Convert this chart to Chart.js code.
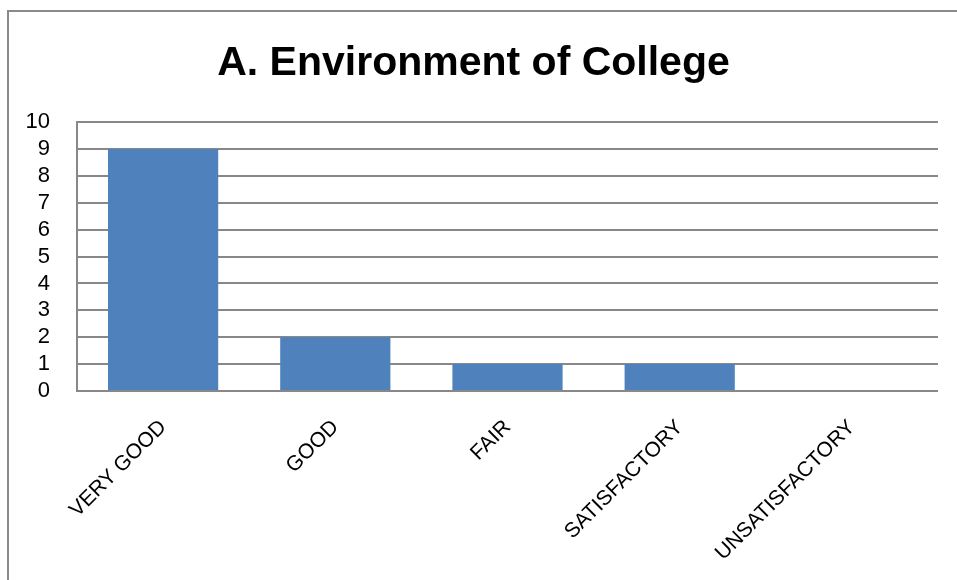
<!DOCTYPE html>
<html>
<head>
<meta charset="utf-8">
<script src="https://cdn.jsdelivr.net/npm/chart.js@4"></script>
<style>
  body { margin: 0; background: #fff; }
  #box {
    position: absolute; left: 7px; top: 10px;
    width: 948px; height: 568px;
    border-left: 2px solid #8a8a8a; border-top: 2px solid #8a8a8a;
  }
</style>
</head>
<body>
<div id="box"><canvas id="chart" width="948" height="568"></canvas></div>
<script>
const categories = ['VERY GOOD', 'GOOD', 'FAIR', 'SATISFACTORY', 'UNSATISFACTORY'];
const counts = [9, 2, 1, 1, 0];
const yTicks = [0, 1, 2, 3, 4, 5, 6, 7, 8, 9, 10];

const font = 'Liberation Sans, Arial, sans-serif';

new Chart(document.getElementById('chart'), {
  type: 'bar',
  data: {
    labels: categories,
    datasets: [{
      data: counts,
      backgroundColor: '#4f81bd',
      categoryPercentage: 1,
      barPercentage: 0.64
    }]
  },
  options: {
    responsive: false,
    animation: false,
    layout: { padding: { right: 19 } },
    plugins: {
      legend: { display: false },
      tooltip: { enabled: false },
      title: {
        display: true,
        text: 'A. Environment of College',
        color: '#000',
        font: { family: font, size: 41, weight: 'bold' },
        padding: { top: 27, bottom: 34 }
      }
    },
    scales: {
      x: {
        grid: { display: false },
        border: { display: false },
        ticks: {
          color: '#000',
          font: { family: font, size: 21 },
          minRotation: 45,
          maxRotation: 45,
          padding: 16
        },
        afterFit: (scale) => { scale.height = 189; }
      },
      y: {
        min: 0,
        max: 10,
        afterBuildTicks: (scale) => { scale.ticks = yTicks.map(v => ({ value: v })); },
        grid: { color: '#888', lineWidth: 2, drawTicks: false },
        border: { color: '#888', width: 2 },
        ticks: {
          color: '#000',
          font: { family: font, size: 22 },
          padding: 27,
          autoSkip: false
        },
        afterFit: (scale) => { scale.width = 68; }
      }
    }
  }
});
</script>
</body>
</html>
